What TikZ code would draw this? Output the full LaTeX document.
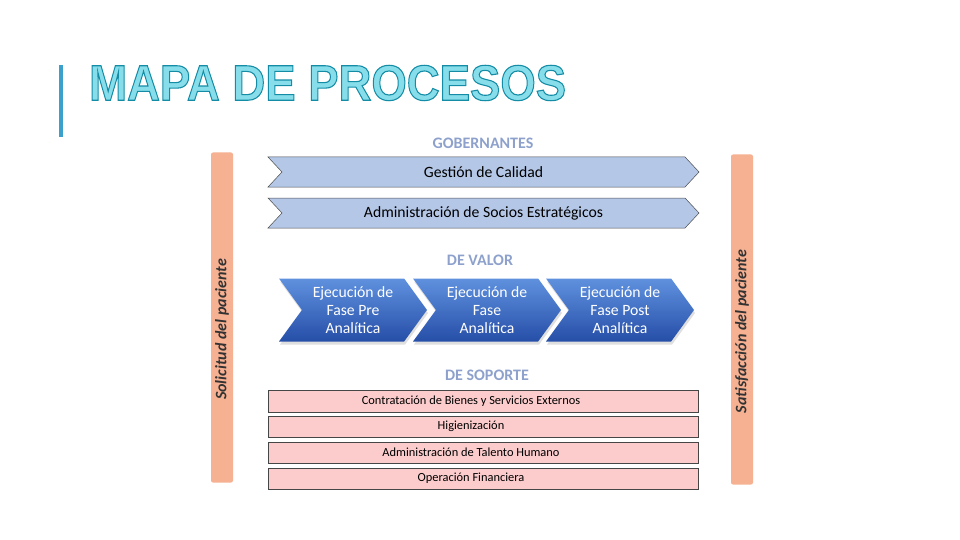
\documentclass[tikz,border=0pt]{standalone}
\usepackage{fontspec}
\setmainfont{Carlito}
\newfontfamily\titlefont{Liberation Sans}
\usetikzlibrary{positioning,shapes.symbols,shadows}
\definecolor{govblue}{RGB}{180,199,231}
\definecolor{valtop}{RGB}{95,145,222}
\definecolor{valbot}{RGB}{38,78,168}
\definecolor{suppink}{RGB}{252,204,204}
\definecolor{sidesalmon}{RGB}{246,176,146}
\definecolor{headgray}{RGB}{141,161,204}
\definecolor{titlecyan}{RGB}{135,222,234}
\definecolor{titleteal}{RGB}{20,140,165}
\definecolor{barblue}{RGB}{60,160,205}
\newcommand{\outlinetext}[1]{%
  \special{pdf:literal direct 2 Tr 1 w 0.078 0.549 0.647 RG}#1%
  \special{pdf:literal direct 0 Tr}}
\newcommand{\suptext}[1]{#1\hspace*{24pt}}

\begin{document}
\begin{tikzpicture}[
  x=1pt, y=-1pt,
  head/.style={font=\fontsize{16}{18}\selectfont\bfseries, text=headgray, inner sep=0pt},
  gov/.style={signal, signal to=east, signal from=west, signal pointer angle=94,
    draw=gray!60!black, line width=0.5pt, fill=govblue, inner sep=0pt,
    minimum width=431pt, minimum height=30pt, font=\fontsize{15.7}{17}\selectfont},
  val/.style={signal, signal to=east, signal from=west, signal pointer angle=108,
    top color=valtop, bottom color=valbot, draw=none, text=white, align=center,
    drop shadow={opacity=0.25, shadow xshift=1pt, shadow yshift=-3pt},
    inner sep=0pt, minimum width=148pt, minimum height=63pt,
    font=\fontsize{15.7}{18}\selectfont},
  sup/.style={rectangle, draw=gray!55!black, line width=0.5pt, fill=suppink, inner sep=0pt,
    minimum width=430pt, minimum height=21.5pt, font=\fontsize{12.4}{14}\selectfont},
  side/.style={rectangle, rounded corners=2pt, fill=sidesalmon, rotate=90,
    minimum width=330pt, minimum height=22pt, inner sep=0pt},
  sidetext/.style={rotate=90, font=\fontsize{16}{18}\selectfont\bfseries\itshape, text=black!80}]
  \useasboundingbox (0,0) rectangle (960,540);

  % title
  \draw[barblue, line width=3.5pt] (61,65) -- (61,137);
  \node[anchor=west, inner sep=0pt, text=titlecyan] (title) at (89,83)
    {\scalebox{1}[1.1]{\titlefont\bfseries\fontsize{45.5}{48}\selectfont
     \outlinetext{MAPA DE PROCESOS}}};

  % side bars
  \node[side] (lbar) at (222,317.5) {};
  \node[side] (rbar) at (742,319.5) {};
  \node[sidetext] (ltext) at ([yshift=-12pt]lbar.center) {Solicitud del paciente};
  \node[sidetext] (rtext) at ([yshift=-12pt]rbar.center) {Satisfacción del paciente};

  % gobernantes
  \node[head] (hgob) at (483,143) {GOBERNANTES};
  \node[gov] (cal) at (483.5,172) {Gestión de Calidad};
  \node[gov] (soc) at (483.5,213) {Administración de Socios Estratégicos};

  % de valor
  \node[head] (hval) at (480,260) {DE VALOR};
  \node[val] (pre) at (353,310) {Ejecución de\\Fase Pre\\Analítica};
  \node[val] (ana) at (487,310) {Ejecución de\\Fase\\Analítica};
  \node[val] (post) at (620,310) {Ejecución de\\Fase Post\\Analítica};

  % de soporte
  \node[head] (hsop) at (487,375) {DE SOPORTE};
  \node[sup] (bie) at (483,401) {\suptext{Contratación de Bienes y Servicios Externos}};
  \node[sup] (hig) at (483,426.5) {\suptext{Higienización}};
  \node[sup] (tal) at (483,452.5) {\suptext{Administración de Talento Humano}};
  \node[sup] (fin) at (483,478.5) {\suptext{Operación Financiera}};
\end{tikzpicture}
\end{document}
